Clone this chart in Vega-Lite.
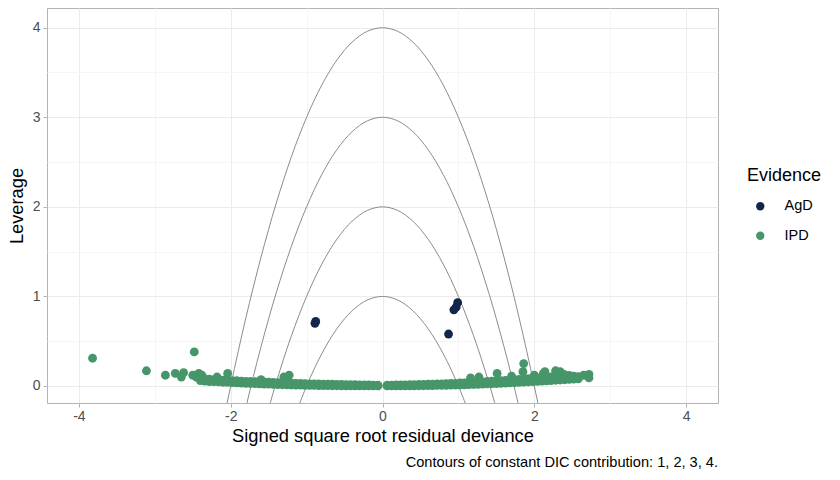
{
  "$schema": "https://vega.github.io/schema/vega-lite/v6.json",
  "width": 671,
  "height": 395,
  "autosize": {"type": "none"},
  "padding": {"left": 47, "top": 8, "right": 122, "bottom": 77},
  "background": "white",
  "config": {
    "font": "Liberation Sans",
    "view": {"stroke": "#b3b3b3", "strokeWidth": 1}
  },
  "title": {
    "text": "Contours of constant DIC contribution: 1, 2, 3, 4.",
    "orient": "bottom",
    "anchor": "end",
    "frame": "group",
    "fontSize": 14.6,
    "fontWeight": "normal",
    "color": "black",
    "offset": 11,
    "dx": 0
  },
  "datasets": {
    "contours": [
      {"dic": 1, "resdev": -1.2, "leverage": -0.44},
      {"dic": 1, "resdev": -1.0, "leverage": 0},
      {"dic": 1, "resdev": -0.8, "leverage": 0.36},
      {"dic": 1, "resdev": -0.6, "leverage": 0.64},
      {"dic": 1, "resdev": -0.4, "leverage": 0.84},
      {"dic": 1, "resdev": -0.2, "leverage": 0.96},
      {"dic": 1, "resdev": 0, "leverage": 1},
      {"dic": 1, "resdev": 0.2, "leverage": 0.96},
      {"dic": 1, "resdev": 0.4, "leverage": 0.84},
      {"dic": 1, "resdev": 0.6, "leverage": 0.64},
      {"dic": 1, "resdev": 0.8, "leverage": 0.36},
      {"dic": 1, "resdev": 1.0, "leverage": 0},
      {"dic": 1, "resdev": 1.2, "leverage": -0.44},
      {"dic": 2, "resdev": -1.6, "leverage": -0.56},
      {"dic": 2, "resdev": -1.4, "leverage": 0.04},
      {"dic": 2, "resdev": -1.2, "leverage": 0.56},
      {"dic": 2, "resdev": -1.0, "leverage": 1},
      {"dic": 2, "resdev": -0.8, "leverage": 1.36},
      {"dic": 2, "resdev": -0.6, "leverage": 1.64},
      {"dic": 2, "resdev": -0.4, "leverage": 1.84},
      {"dic": 2, "resdev": -0.2, "leverage": 1.96},
      {"dic": 2, "resdev": 0, "leverage": 2},
      {"dic": 2, "resdev": 0.2, "leverage": 1.96},
      {"dic": 2, "resdev": 0.4, "leverage": 1.84},
      {"dic": 2, "resdev": 0.6, "leverage": 1.64},
      {"dic": 2, "resdev": 0.8, "leverage": 1.36},
      {"dic": 2, "resdev": 1.0, "leverage": 1},
      {"dic": 2, "resdev": 1.2, "leverage": 0.56},
      {"dic": 2, "resdev": 1.4, "leverage": 0.04},
      {"dic": 2, "resdev": 1.6, "leverage": -0.56},
      {"dic": 3, "resdev": -2.0, "leverage": -1},
      {"dic": 3, "resdev": -1.8, "leverage": -0.24},
      {"dic": 3, "resdev": -1.6, "leverage": 0.44},
      {"dic": 3, "resdev": -1.4, "leverage": 1.04},
      {"dic": 3, "resdev": -1.2, "leverage": 1.56},
      {"dic": 3, "resdev": -1.0, "leverage": 2},
      {"dic": 3, "resdev": -0.8, "leverage": 2.36},
      {"dic": 3, "resdev": -0.6, "leverage": 2.64},
      {"dic": 3, "resdev": -0.4, "leverage": 2.84},
      {"dic": 3, "resdev": -0.2, "leverage": 2.96},
      {"dic": 3, "resdev": 0, "leverage": 3},
      {"dic": 3, "resdev": 0.2, "leverage": 2.96},
      {"dic": 3, "resdev": 0.4, "leverage": 2.84},
      {"dic": 3, "resdev": 0.6, "leverage": 2.64},
      {"dic": 3, "resdev": 0.8, "leverage": 2.36},
      {"dic": 3, "resdev": 1.0, "leverage": 2},
      {"dic": 3, "resdev": 1.2, "leverage": 1.56},
      {"dic": 3, "resdev": 1.4, "leverage": 1.04},
      {"dic": 3, "resdev": 1.6, "leverage": 0.44},
      {"dic": 3, "resdev": 1.8, "leverage": -0.24},
      {"dic": 3, "resdev": 2.0, "leverage": -1},
      {"dic": 4, "resdev": -2.4, "leverage": -1.76},
      {"dic": 4, "resdev": -2.2, "leverage": -0.84},
      {"dic": 4, "resdev": -2.0, "leverage": 0},
      {"dic": 4, "resdev": -1.8, "leverage": 0.76},
      {"dic": 4, "resdev": -1.6, "leverage": 1.44},
      {"dic": 4, "resdev": -1.4, "leverage": 2.04},
      {"dic": 4, "resdev": -1.2, "leverage": 2.56},
      {"dic": 4, "resdev": -1.0, "leverage": 3},
      {"dic": 4, "resdev": -0.8, "leverage": 3.36},
      {"dic": 4, "resdev": -0.6, "leverage": 3.64},
      {"dic": 4, "resdev": -0.4, "leverage": 3.84},
      {"dic": 4, "resdev": -0.2, "leverage": 3.96},
      {"dic": 4, "resdev": 0, "leverage": 4},
      {"dic": 4, "resdev": 0.2, "leverage": 3.96},
      {"dic": 4, "resdev": 0.4, "leverage": 3.84},
      {"dic": 4, "resdev": 0.6, "leverage": 3.64},
      {"dic": 4, "resdev": 0.8, "leverage": 3.36},
      {"dic": 4, "resdev": 1.0, "leverage": 3},
      {"dic": 4, "resdev": 1.2, "leverage": 2.56},
      {"dic": 4, "resdev": 1.4, "leverage": 2.04},
      {"dic": 4, "resdev": 1.6, "leverage": 1.44},
      {"dic": 4, "resdev": 1.8, "leverage": 0.76},
      {"dic": 4, "resdev": 2.0, "leverage": 0},
      {"dic": 4, "resdev": 2.2, "leverage": -0.84},
      {"dic": 4, "resdev": 2.4, "leverage": -1.76}
    ],
    "points": [
      {"Evidence": "IPD", "resdev": -2.40, "leverage": 0.060},
      {"Evidence": "IPD", "resdev": -2.40, "leverage": 0.085},
      {"Evidence": "IPD", "resdev": -2.34, "leverage": 0.055},
      {"Evidence": "IPD", "resdev": -2.34, "leverage": 0.080},
      {"Evidence": "IPD", "resdev": -2.28, "leverage": 0.050},
      {"Evidence": "IPD", "resdev": -2.28, "leverage": 0.075},
      {"Evidence": "IPD", "resdev": -2.22, "leverage": 0.048},
      {"Evidence": "IPD", "resdev": -2.22, "leverage": 0.070},
      {"Evidence": "IPD", "resdev": -2.16, "leverage": 0.045},
      {"Evidence": "IPD", "resdev": -2.16, "leverage": 0.068},
      {"Evidence": "IPD", "resdev": -2.10, "leverage": 0.042},
      {"Evidence": "IPD", "resdev": -2.10, "leverage": 0.065},
      {"Evidence": "IPD", "resdev": -2.04, "leverage": 0.040},
      {"Evidence": "IPD", "resdev": -2.04, "leverage": 0.062},
      {"Evidence": "IPD", "resdev": -1.98, "leverage": 0.037},
      {"Evidence": "IPD", "resdev": -1.98, "leverage": 0.060},
      {"Evidence": "IPD", "resdev": -1.92, "leverage": 0.035},
      {"Evidence": "IPD", "resdev": -1.92, "leverage": 0.058},
      {"Evidence": "IPD", "resdev": -1.86, "leverage": 0.032},
      {"Evidence": "IPD", "resdev": -1.86, "leverage": 0.055},
      {"Evidence": "IPD", "resdev": -1.80, "leverage": 0.030},
      {"Evidence": "IPD", "resdev": -1.80, "leverage": 0.052},
      {"Evidence": "IPD", "resdev": -1.74, "leverage": 0.028},
      {"Evidence": "IPD", "resdev": -1.74, "leverage": 0.050},
      {"Evidence": "IPD", "resdev": -1.68, "leverage": 0.026},
      {"Evidence": "IPD", "resdev": -1.68, "leverage": 0.048},
      {"Evidence": "IPD", "resdev": -1.62, "leverage": 0.024},
      {"Evidence": "IPD", "resdev": -1.62, "leverage": 0.046},
      {"Evidence": "IPD", "resdev": -1.56, "leverage": 0.022},
      {"Evidence": "IPD", "resdev": -1.56, "leverage": 0.044},
      {"Evidence": "IPD", "resdev": -1.50, "leverage": 0.020},
      {"Evidence": "IPD", "resdev": -1.50, "leverage": 0.042},
      {"Evidence": "IPD", "resdev": -1.44, "leverage": 0.018},
      {"Evidence": "IPD", "resdev": -1.44, "leverage": 0.040},
      {"Evidence": "IPD", "resdev": -1.38, "leverage": 0.016},
      {"Evidence": "IPD", "resdev": -1.38, "leverage": 0.038},
      {"Evidence": "IPD", "resdev": -1.32, "leverage": 0.014},
      {"Evidence": "IPD", "resdev": -1.32, "leverage": 0.036},
      {"Evidence": "IPD", "resdev": -1.26, "leverage": 0.012},
      {"Evidence": "IPD", "resdev": -1.26, "leverage": 0.034},
      {"Evidence": "IPD", "resdev": -1.20, "leverage": 0.011},
      {"Evidence": "IPD", "resdev": -1.20, "leverage": 0.032},
      {"Evidence": "IPD", "resdev": -1.14, "leverage": 0.010},
      {"Evidence": "IPD", "resdev": -1.14, "leverage": 0.030},
      {"Evidence": "IPD", "resdev": -1.08, "leverage": 0.009},
      {"Evidence": "IPD", "resdev": -1.08, "leverage": 0.028},
      {"Evidence": "IPD", "resdev": -1.02, "leverage": 0.008},
      {"Evidence": "IPD", "resdev": -1.02, "leverage": 0.026},
      {"Evidence": "IPD", "resdev": -0.96, "leverage": 0.007},
      {"Evidence": "IPD", "resdev": -0.96, "leverage": 0.024},
      {"Evidence": "IPD", "resdev": -0.90, "leverage": 0.006},
      {"Evidence": "IPD", "resdev": -0.90, "leverage": 0.023},
      {"Evidence": "IPD", "resdev": -0.84, "leverage": 0.005},
      {"Evidence": "IPD", "resdev": -0.84, "leverage": 0.022},
      {"Evidence": "IPD", "resdev": -0.78, "leverage": 0.004},
      {"Evidence": "IPD", "resdev": -0.78, "leverage": 0.021},
      {"Evidence": "IPD", "resdev": -0.72, "leverage": 0.004},
      {"Evidence": "IPD", "resdev": -0.72, "leverage": 0.020},
      {"Evidence": "IPD", "resdev": -0.66, "leverage": 0.003},
      {"Evidence": "IPD", "resdev": -0.66, "leverage": 0.019},
      {"Evidence": "IPD", "resdev": -0.60, "leverage": 0.003},
      {"Evidence": "IPD", "resdev": -0.60, "leverage": 0.018},
      {"Evidence": "IPD", "resdev": -0.54, "leverage": 0.002},
      {"Evidence": "IPD", "resdev": -0.54, "leverage": 0.017},
      {"Evidence": "IPD", "resdev": -0.48, "leverage": 0.002},
      {"Evidence": "IPD", "resdev": -0.48, "leverage": 0.016},
      {"Evidence": "IPD", "resdev": -0.42, "leverage": 0.002},
      {"Evidence": "IPD", "resdev": -0.42, "leverage": 0.015},
      {"Evidence": "IPD", "resdev": -0.36, "leverage": 0.001},
      {"Evidence": "IPD", "resdev": -0.36, "leverage": 0.014},
      {"Evidence": "IPD", "resdev": -0.30, "leverage": 0.001},
      {"Evidence": "IPD", "resdev": -0.30, "leverage": 0.013},
      {"Evidence": "IPD", "resdev": -0.24, "leverage": 0.001},
      {"Evidence": "IPD", "resdev": -0.24, "leverage": 0.012},
      {"Evidence": "IPD", "resdev": -0.18, "leverage": 0.001},
      {"Evidence": "IPD", "resdev": -0.18, "leverage": 0.011},
      {"Evidence": "IPD", "resdev": -0.12, "leverage": 0.001},
      {"Evidence": "IPD", "resdev": -0.12, "leverage": 0.010},
      {"Evidence": "IPD", "resdev": -0.06, "leverage": 0.001},
      {"Evidence": "IPD", "resdev": -0.06, "leverage": 0.008},
      {"Evidence": "IPD", "resdev": 0.06, "leverage": 0.001},
      {"Evidence": "IPD", "resdev": 0.06, "leverage": 0.008},
      {"Evidence": "IPD", "resdev": 0.12, "leverage": 0.001},
      {"Evidence": "IPD", "resdev": 0.12, "leverage": 0.010},
      {"Evidence": "IPD", "resdev": 0.18, "leverage": 0.001},
      {"Evidence": "IPD", "resdev": 0.18, "leverage": 0.011},
      {"Evidence": "IPD", "resdev": 0.24, "leverage": 0.001},
      {"Evidence": "IPD", "resdev": 0.24, "leverage": 0.012},
      {"Evidence": "IPD", "resdev": 0.30, "leverage": 0.002},
      {"Evidence": "IPD", "resdev": 0.30, "leverage": 0.013},
      {"Evidence": "IPD", "resdev": 0.36, "leverage": 0.002},
      {"Evidence": "IPD", "resdev": 0.36, "leverage": 0.014},
      {"Evidence": "IPD", "resdev": 0.42, "leverage": 0.002},
      {"Evidence": "IPD", "resdev": 0.42, "leverage": 0.015},
      {"Evidence": "IPD", "resdev": 0.48, "leverage": 0.003},
      {"Evidence": "IPD", "resdev": 0.48, "leverage": 0.017},
      {"Evidence": "IPD", "resdev": 0.54, "leverage": 0.003},
      {"Evidence": "IPD", "resdev": 0.54, "leverage": 0.018},
      {"Evidence": "IPD", "resdev": 0.60, "leverage": 0.004},
      {"Evidence": "IPD", "resdev": 0.60, "leverage": 0.019},
      {"Evidence": "IPD", "resdev": 0.66, "leverage": 0.005},
      {"Evidence": "IPD", "resdev": 0.66, "leverage": 0.021},
      {"Evidence": "IPD", "resdev": 0.72, "leverage": 0.006},
      {"Evidence": "IPD", "resdev": 0.72, "leverage": 0.022},
      {"Evidence": "IPD", "resdev": 0.78, "leverage": 0.007},
      {"Evidence": "IPD", "resdev": 0.78, "leverage": 0.024},
      {"Evidence": "IPD", "resdev": 0.84, "leverage": 0.008},
      {"Evidence": "IPD", "resdev": 0.84, "leverage": 0.026},
      {"Evidence": "IPD", "resdev": 0.90, "leverage": 0.009},
      {"Evidence": "IPD", "resdev": 0.90, "leverage": 0.028},
      {"Evidence": "IPD", "resdev": 0.96, "leverage": 0.010},
      {"Evidence": "IPD", "resdev": 0.96, "leverage": 0.030},
      {"Evidence": "IPD", "resdev": 1.02, "leverage": 0.012},
      {"Evidence": "IPD", "resdev": 1.02, "leverage": 0.033},
      {"Evidence": "IPD", "resdev": 1.08, "leverage": 0.013},
      {"Evidence": "IPD", "resdev": 1.08, "leverage": 0.035},
      {"Evidence": "IPD", "resdev": 1.14, "leverage": 0.015},
      {"Evidence": "IPD", "resdev": 1.14, "leverage": 0.038},
      {"Evidence": "IPD", "resdev": 1.20, "leverage": 0.017},
      {"Evidence": "IPD", "resdev": 1.20, "leverage": 0.040},
      {"Evidence": "IPD", "resdev": 1.26, "leverage": 0.019},
      {"Evidence": "IPD", "resdev": 1.26, "leverage": 0.043},
      {"Evidence": "IPD", "resdev": 1.32, "leverage": 0.021},
      {"Evidence": "IPD", "resdev": 1.32, "leverage": 0.046},
      {"Evidence": "IPD", "resdev": 1.38, "leverage": 0.023},
      {"Evidence": "IPD", "resdev": 1.38, "leverage": 0.050},
      {"Evidence": "IPD", "resdev": 1.44, "leverage": 0.025},
      {"Evidence": "IPD", "resdev": 1.44, "leverage": 0.053},
      {"Evidence": "IPD", "resdev": 1.50, "leverage": 0.027},
      {"Evidence": "IPD", "resdev": 1.50, "leverage": 0.056},
      {"Evidence": "IPD", "resdev": 1.56, "leverage": 0.030},
      {"Evidence": "IPD", "resdev": 1.56, "leverage": 0.060},
      {"Evidence": "IPD", "resdev": 1.62, "leverage": 0.032},
      {"Evidence": "IPD", "resdev": 1.62, "leverage": 0.063},
      {"Evidence": "IPD", "resdev": 1.68, "leverage": 0.035},
      {"Evidence": "IPD", "resdev": 1.68, "leverage": 0.067},
      {"Evidence": "IPD", "resdev": 1.74, "leverage": 0.037},
      {"Evidence": "IPD", "resdev": 1.74, "leverage": 0.070},
      {"Evidence": "IPD", "resdev": 1.80, "leverage": 0.040},
      {"Evidence": "IPD", "resdev": 1.80, "leverage": 0.074},
      {"Evidence": "IPD", "resdev": 1.86, "leverage": 0.043},
      {"Evidence": "IPD", "resdev": 1.86, "leverage": 0.078},
      {"Evidence": "IPD", "resdev": 1.92, "leverage": 0.046},
      {"Evidence": "IPD", "resdev": 1.92, "leverage": 0.082},
      {"Evidence": "IPD", "resdev": 1.98, "leverage": 0.049},
      {"Evidence": "IPD", "resdev": 1.98, "leverage": 0.086},
      {"Evidence": "IPD", "resdev": 2.04, "leverage": 0.052},
      {"Evidence": "IPD", "resdev": 2.04, "leverage": 0.090},
      {"Evidence": "IPD", "resdev": 2.10, "leverage": 0.055},
      {"Evidence": "IPD", "resdev": 2.10, "leverage": 0.094},
      {"Evidence": "IPD", "resdev": 2.16, "leverage": 0.058},
      {"Evidence": "IPD", "resdev": 2.16, "leverage": 0.098},
      {"Evidence": "IPD", "resdev": 2.22, "leverage": 0.061},
      {"Evidence": "IPD", "resdev": 2.22, "leverage": 0.102},
      {"Evidence": "IPD", "resdev": 2.28, "leverage": 0.064},
      {"Evidence": "IPD", "resdev": 2.28, "leverage": 0.106},
      {"Evidence": "IPD", "resdev": 2.34, "leverage": 0.067},
      {"Evidence": "IPD", "resdev": 2.34, "leverage": 0.110},
      {"Evidence": "IPD", "resdev": 2.40, "leverage": 0.070},
      {"Evidence": "IPD", "resdev": 2.40, "leverage": 0.114},
      {"Evidence": "IPD", "resdev": 2.46, "leverage": 0.073},
      {"Evidence": "IPD", "resdev": 2.46, "leverage": 0.118},
      {"Evidence": "IPD", "resdev": 2.52, "leverage": 0.076},
      {"Evidence": "IPD", "resdev": 2.52, "leverage": 0.100},
      {"Evidence": "IPD", "resdev": 2.58, "leverage": 0.080},
      {"Evidence": "IPD", "resdev": 2.58, "leverage": 0.105},
      {"Evidence": "IPD", "resdev": -3.82, "leverage": 0.31},
      {"Evidence": "IPD", "resdev": -3.11, "leverage": 0.17},
      {"Evidence": "IPD", "resdev": -2.86, "leverage": 0.12},
      {"Evidence": "IPD", "resdev": -2.73, "leverage": 0.14},
      {"Evidence": "IPD", "resdev": -2.62, "leverage": 0.15},
      {"Evidence": "IPD", "resdev": -2.65, "leverage": 0.10},
      {"Evidence": "IPD", "resdev": -2.48, "leverage": 0.38},
      {"Evidence": "IPD", "resdev": -2.50, "leverage": 0.12},
      {"Evidence": "IPD", "resdev": -2.45, "leverage": 0.10},
      {"Evidence": "IPD", "resdev": -2.42, "leverage": 0.14},
      {"Evidence": "IPD", "resdev": -2.38, "leverage": 0.12},
      {"Evidence": "IPD", "resdev": -2.18, "leverage": 0.10},
      {"Evidence": "IPD", "resdev": -2.04, "leverage": 0.14},
      {"Evidence": "IPD", "resdev": -1.60, "leverage": 0.07},
      {"Evidence": "IPD", "resdev": -1.30, "leverage": 0.10},
      {"Evidence": "IPD", "resdev": -1.23, "leverage": 0.12},
      {"Evidence": "IPD", "resdev": 1.16, "leverage": 0.09},
      {"Evidence": "IPD", "resdev": 1.27, "leverage": 0.10},
      {"Evidence": "IPD", "resdev": 1.51, "leverage": 0.14},
      {"Evidence": "IPD", "resdev": 1.70, "leverage": 0.11},
      {"Evidence": "IPD", "resdev": 1.85, "leverage": 0.16},
      {"Evidence": "IPD", "resdev": 1.86, "leverage": 0.25},
      {"Evidence": "IPD", "resdev": 2.00, "leverage": 0.12},
      {"Evidence": "IPD", "resdev": 2.12, "leverage": 0.14},
      {"Evidence": "IPD", "resdev": 2.14, "leverage": 0.16},
      {"Evidence": "IPD", "resdev": 2.28, "leverage": 0.17},
      {"Evidence": "IPD", "resdev": 2.34, "leverage": 0.16},
      {"Evidence": "IPD", "resdev": 2.39, "leverage": 0.13},
      {"Evidence": "IPD", "resdev": 2.52, "leverage": 0.11},
      {"Evidence": "IPD", "resdev": 2.54, "leverage": 0.09},
      {"Evidence": "IPD", "resdev": 2.65, "leverage": 0.12},
      {"Evidence": "IPD", "resdev": 2.72, "leverage": 0.13},
      {"Evidence": "IPD", "resdev": 2.72, "leverage": 0.09},
      {"Evidence": "AgD", "resdev": -0.89, "leverage": 0.70},
      {"Evidence": "AgD", "resdev": -0.88, "leverage": 0.72},
      {"Evidence": "AgD", "resdev": 0.87, "leverage": 0.58},
      {"Evidence": "AgD", "resdev": 0.94, "leverage": 0.85},
      {"Evidence": "AgD", "resdev": 0.97, "leverage": 0.88},
      {"Evidence": "AgD", "resdev": 0.99, "leverage": 0.93}
    ]
  },
  "layer": [
    {
      "data": {"name": "contours"},
      "mark": {"type": "line", "clip": true, "color": "#8c8c8c", "strokeWidth": 1, "interpolate": "catmull-rom"},
      "encoding": {
        "x": {
          "field": "resdev", "type": "quantitative",
          "scale": {"domain": [-4.42, 4.42], "nice": false, "zero": false},
          "axis": {"orient": "top", "values": [-3, -1, 1, 3], "grid": true, "gridColor": "#f5f5f5", "gridWidth": 1, "labels": false, "ticks": false, "domain": false, "title": null}
        },
        "y": {
          "field": "leverage", "type": "quantitative",
          "scale": {"domain": [-0.19, 4.22], "nice": false, "zero": false},
          "axis": {"orient": "right", "values": [0.5, 1.5, 2.5, 3.5], "grid": true, "gridColor": "#f5f5f5", "gridWidth": 1, "labels": false, "ticks": false, "domain": false, "title": null}
        },
        "detail": {"field": "dic", "type": "nominal"}
      }
    },
    {
      "data": {"name": "points"},
      "mark": {"type": "circle", "size": 78, "opacity": 1},
      "encoding": {
        "x": {
          "field": "resdev", "type": "quantitative",
          "scale": {"domain": [-4.42, 4.42], "nice": false, "zero": false},
          "axis": {"orient": "bottom", "values": [-4, -2, 0, 2, 4], "labelExpr": "toString(datum.value)", "grid": true, "gridColor": "#ebebeb", "gridWidth": 1, "domain": false, "tickColor": "#b3b3b3", "tickSize": 4, "labelColor": "#4d4d4d", "labelFontSize": 14, "labelPadding": 2, "title": "Signed square root residual deviance", "titleFontSize": 18.3, "titleFontWeight": "normal", "titleColor": "black", "titlePadding": 4}
        },
        "y": {
          "field": "leverage", "type": "quantitative",
          "scale": {"domain": [-0.19, 4.22], "nice": false, "zero": false},
          "axis": {"orient": "left", "values": [0, 1, 2, 3, 4], "grid": true, "gridColor": "#ebebeb", "gridWidth": 1, "domain": false, "tickColor": "#b3b3b3", "tickSize": 4, "labelColor": "#4d4d4d", "labelFontSize": 14, "labelPadding": 3, "title": "Leverage", "titleFontSize": 18.3, "titleFontWeight": "normal", "titleColor": "black", "titlePadding": 6}
        },
        "color": {
          "field": "Evidence", "type": "nominal",
          "scale": {"domain": ["AgD", "IPD"], "range": ["#12264b", "#46966a"]},
          "legend": {"orient": "none", "legendX": 700, "legendY": 159, "title": "Evidence", "titleFontSize": 18, "titleFontWeight": "normal", "titleColor": "black", "titlePadding": 14, "labelFontSize": 14.5, "labelColor": "black", "symbolType": "circle", "symbolSize": 70, "symbolStrokeWidth": 0, "symbolOffset": 6, "labelOffset": 17, "rowPadding": 14.5}
        }
      }
    }
  ],
  "resolve": {"axis": {"x": "independent", "y": "independent"}}
}
